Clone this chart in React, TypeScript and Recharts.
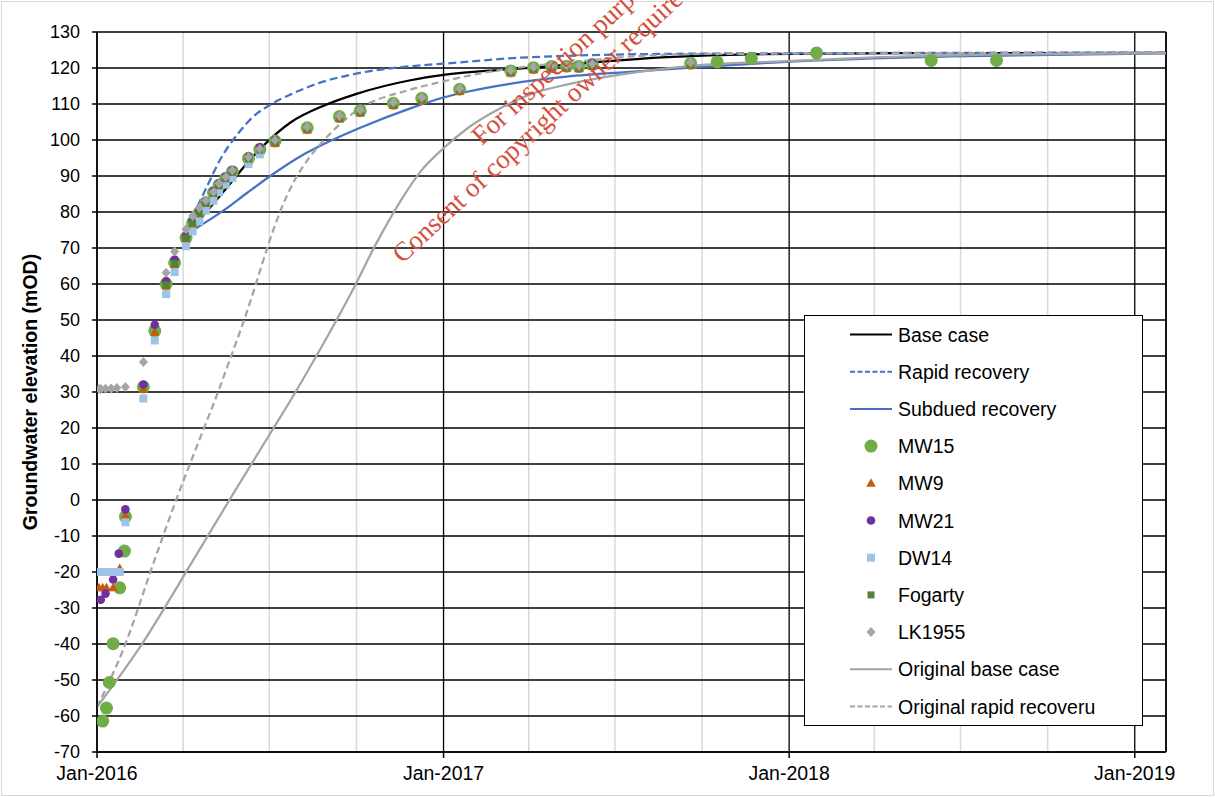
import React from "react";
import {
  ComposedChart,
  Line,
  Scatter,
  XAxis,
  YAxis,
  CartesianGrid,
  ReferenceLine,
  Legend,
} from "recharts";

// x axis is a plain number scale: days since 1 Jan 2016
const ORIGIN = Date.UTC(2016, 0, 1);
const toDay = (d: string) => Math.round((Date.parse(d) - ORIGIN) / 86400000);

const AXIS_END = "2019-02-03";
const YEAR_TICKS = ["2016-01-01", "2017-01-01", "2018-01-01", "2019-01-01"];
const YEAR_LABELS = ["Jan-2016", "Jan-2017", "Jan-2018", "Jan-2019"];
const QUARTER_TICKS = [
  "2016-04-01", "2016-07-01", "2016-10-01",
  "2017-04-01", "2017-07-01", "2017-10-01",
  "2018-04-01", "2018-07-01", "2018-10-01",
];
const LEVEL_TICKS = [-70, -60, -50, -40, -30, -20, -10, 0, 10, 20, 30, 40, 50, 60, 70, 80, 90, 100, 110, 120, 130];

type Reading = [string, number];

// model curves
const BASE_CASE: Reading[] = [
  ["2016-04-22", 79.0], ["2016-05-21", 88.0], ["2016-06-07", 93.4], ["2016-06-27", 99.0],
  ["2016-07-23", 104.8], ["2016-08-28", 109.6], ["2016-10-02", 112.9], ["2016-11-27", 116.6],
  ["2017-01-01", 118.1], ["2017-03-02", 119.5], ["2017-04-24", 120.5], ["2017-06-15", 121.7],
  ["2017-08-25", 123.0], ["2017-11-21", 123.8], ["2018-04-28", 124.1], ["2019-02-03", 124.2],
];

const RAPID_RECOVERY: Reading[] = [
  ["2016-04-16", 81.5], ["2016-04-26", 87.0], ["2016-05-10", 94.5], ["2016-05-29", 101.8],
  ["2016-06-14", 106.5], ["2016-07-02", 109.8], ["2016-07-23", 112.6], ["2016-08-27", 116.2],
  ["2016-10-02", 118.5], ["2016-11-27", 120.5], ["2017-01-01", 121.2], ["2017-04-02", 123.0],
  ["2017-09-29", 124.0], ["2019-02-03", 124.3],
];

const SUBDUED_RECOVERY: Reading[] = [
  ["2016-04-13", 75.2], ["2016-05-13", 80.3], ["2016-06-07", 85.2], ["2016-07-02", 90.0],
  ["2016-08-03", 95.5], ["2016-08-27", 98.8], ["2016-10-05", 103.4], ["2016-11-27", 108.8],
  ["2017-01-01", 111.8], ["2017-01-26", 113.4], ["2017-03-12", 115.6], ["2017-05-11", 117.6],
  ["2017-07-21", 119.0], ["2017-09-19", 120.1], ["2018-01-12", 121.9], ["2018-06-20", 123.2],
  ["2019-02-03", 124.1],
];

const ORIGINAL_BASE_CASE: Reading[] = [
  ["2016-01-01", -57.5], ["2016-02-15", -41.0], ["2016-04-11", -17.0], ["2016-05-21", 0.5],
  ["2016-06-14", 10.8], ["2016-07-05", 19.8], ["2016-07-23", 27.5], ["2016-08-24", 42.0],
  ["2016-09-25", 57.3], ["2016-10-21", 70.8], ["2016-11-16", 82.8], ["2016-12-07", 91.0],
  ["2017-01-01", 97.7], ["2017-01-26", 103.2], ["2017-03-02", 108.8], ["2017-04-06", 113.0],
  ["2017-05-11", 115.4], ["2017-07-03", 118.0], ["2017-08-25", 119.9], ["2017-09-29", 120.8],
  ["2017-12-29", 121.9], ["2018-04-07", 123.0], ["2018-08-26", 123.8], ["2019-02-03", 124.1],
];

const ORIGINAL_RAPID: Reading[] = [
  ["2016-01-01", -57.5], ["2016-01-28", -42.0], ["2016-03-04", -15.0], ["2016-03-25", 0.3],
  ["2016-04-19", 17.3], ["2016-05-07", 29.4], ["2016-05-21", 39.5], ["2016-06-04", 49.7],
  ["2016-06-18", 61.0], ["2016-06-30", 71.0], ["2016-07-13", 80.5], ["2016-07-27", 88.5],
  ["2016-08-10", 94.3], ["2016-08-29", 100.3], ["2016-10-02", 108.3], ["2016-11-27", 114.0],
  ["2017-01-01", 116.3], ["2017-02-09", 118.5], ["2017-04-02", 120.5], ["2017-05-25", 121.8],
  ["2017-06-29", 122.8], ["2017-09-29", 123.9], ["2019-02-03", 124.2],
];

// January 2016 drawdown readings
const MW15_JAN: Reading[] = [
  ["2016-01-07", -61.4], ["2016-01-11", -57.8], ["2016-01-14", -50.7], ["2016-01-18", -39.9],
  ["2016-01-25", -24.4], ["2016-01-30", -14.2], ["2016-01-31", -4.6],
];
const MW9_JAN: Reading[] = [
  ["2016-01-03", -24.4], ["2016-01-07", -24.4], ["2016-01-11", -24.4], ["2016-01-18", -24.4],
  ["2016-01-25", -19.0], ["2016-01-31", -4.3],
];
const MW21_JAN: Reading[] = [
  ["2016-01-05", -27.7], ["2016-01-10", -26.0], ["2016-01-18", -22.1], ["2016-01-24", -14.9],
  ["2016-01-31", -2.6],
];
const DW14_JAN: Reading[] = [
  ["2016-01-02", -20.0], ["2016-01-05", -20.0], ["2016-01-08", -20.0], ["2016-01-11", -20.0],
  ["2016-01-14", -20.0], ["2016-01-17", -20.0], ["2016-01-20", -20.0], ["2016-01-23", -20.0],
  ["2016-01-25", -20.0], ["2016-01-31", -6.2],
];
const LK1955_JAN: Reading[] = [
  ["2016-01-03", 30.8], ["2016-01-05", 30.8], ["2016-01-10", 30.9], ["2016-01-16", 31.0],
  ["2016-01-22", 31.1], ["2016-01-31", 31.4],
];

// later monitoring rounds
const VISIT_DATES = [
  "2016-02-19", "2016-03-02", "2016-03-14", "2016-03-23", "2016-04-04", "2016-04-11", "2016-04-18", "2016-04-25",
  "2016-05-03", "2016-05-09", "2016-05-16", "2016-05-23", "2016-06-09", "2016-06-21", "2016-07-07", "2016-08-10",
  "2016-09-13", "2016-10-05", "2016-11-09", "2016-12-09", "2017-01-18", "2017-03-13", "2017-04-06", "2017-04-25",
  "2017-05-11", "2017-05-24", "2017-06-07", "2017-09-19", "2017-10-17", "2017-11-22", "2018-01-30", "2018-05-31",
  "2018-08-08",
];
const MW15_LEVELS = [
  31.4, 47.0, 60.0, 65.9, 72.9, 77.0, 79.8, 82.6,
  85.4, 87.5, 89.4, 91.2, 94.9, 97.4, 99.7, 103.4,
  106.5, 108.1, 110.2, 111.6, 114.1, 119.2, 120.1, 120.4,
  120.5, 120.4, 121.0, 121.3, 121.7, 122.7, 124.2, 122.1,
  122.1,
];
const MW9_LEVELS = [
  30.7, 46.6, 59.5, 65.4, 72.4, 76.5, 79.3, 82.1,
  84.9, 87.0, 88.9, 90.7, 94.3, 96.8, 99.1, 102.8,
  105.9, 107.5, 109.6, 111.0, 113.5, 118.6, 119.5, 119.8,
  119.9, 119.8, 120.4, 120.7, null, null, null, null,
  null,
];
const MW21_LEVELS = [
  32.1, 48.7, 60.8, 66.8, 73.3, 77.5, 80.3, 83.0,
  85.8, 87.9, 89.8, 91.6, 95.3, 98.0, 100.0, null,
  null, null, null, null, null, null, null, null,
  null, null, 121.4, null, null, null, null, null,
  null,
];
const DW14_LEVELS = [
  28.2, 44.3, 57.2, 63.3, 70.5, 74.6, 77.4, 80.4,
  83.1, 85.5, 87.6, 89.4, 93.3, 96.0, null, null,
  null, null, null, null, null, null, null, null,
  null, null, null, null, null, null, null, null,
  null,
];
const FOGARTY_LEVELS = [
  null, null, 59.8, 65.7, 72.7, 76.8, 79.6, 82.4,
  85.2, 87.3, 89.2, 91.0, 94.7, 97.2, 99.5, 103.2,
  106.3, 107.9, 110.0, 111.4, 113.9, 119.0, 119.9, 120.2,
  120.3, 120.2, 120.8, 121.1, null, null, null, null,
  null,
];
const LK1955_LEVELS = [
  38.3, null, 63.1, 69.0, 75.2, 78.9, 81.2, 83.2,
  85.6, 87.9, 89.7, 91.6, 95.3, 97.6, 100.0, 103.6,
  106.7, 108.3, 110.4, 111.8, 114.3, 119.4, 120.3, 120.6,
  120.7, 120.6, 121.2, 121.5, null, null, null, null,
  null,
];

const X_MAX = toDay(AXIS_END);
const YEAR_DAYS = YEAR_TICKS.map(toDay);
const QUARTER_DAYS = QUARTER_TICKS.map(toDay);

const curve = (rows: Reading[]) => rows.map(([d, v]) => ({ x: toDay(d), y: v }));
const well = (jan: Reading[], levels: (number | null)[]) => [
  ...curve(jan),
  ...VISIT_DATES.flatMap((d, i) => (levels[i] == null ? [] : [{ x: toDay(d), y: levels[i] as number }])),
];

const LINES = [
  { name: "Base case", rows: BASE_CASE, stroke: "#000000", dash: undefined },
  { name: "Rapid recovery", rows: RAPID_RECOVERY, stroke: "#4472c4", dash: "8 4" },
  { name: "Subdued recovery", rows: SUBDUED_RECOVERY, stroke: "#4472c4", dash: undefined },
  { name: "Original base case", rows: ORIGINAL_BASE_CASE, stroke: "#a5a5a5", dash: undefined },
  { name: "Original rapid recoveru", rows: ORIGINAL_RAPID, stroke: "#a5a5a5", dash: "7 4" },
];

const WELLS = [
  { name: "MW15", points: well(MW15_JAN, MW15_LEVELS) },
  { name: "MW9", points: well(MW9_JAN, MW9_LEVELS) },
  { name: "MW21", points: well(MW21_JAN, MW21_LEVELS) },
  { name: "DW14", points: well(DW14_JAN, DW14_LEVELS) },
  { name: "Fogarty", points: well([], FOGARTY_LEVELS) },
  { name: "LK1955", points: well(LK1955_JAN, LK1955_LEVELS) },
];

const LEGEND_ORDER = [
  "Base case", "Rapid recovery", "Subdued recovery",
  "MW15", "MW9", "MW21", "DW14", "Fogarty", "LK1955",
  "Original base case", "Original rapid recoveru",
];

function Marker({ kind, cx, cy }: { kind: string; cx: number; cy: number }) {
  switch (kind) {
    case "MW15":
      return <circle cx={cx} cy={cy} r={6.5} fill="#70ad47" />;
    case "MW9":
      return <polygon points={`${cx},${cy - 5} ${cx + 4.8},${cy + 3.5} ${cx - 4.8},${cy + 3.5}`} fill="#c55a11" />;
    case "MW21":
      return <circle cx={cx} cy={cy} r={4.3} fill="#7030a0" />;
    case "DW14":
      return <rect x={cx - 4} y={cy - 4} width={8} height={8} fill="#9dc3e6" />;
    case "Fogarty":
      return <rect x={cx - 3.5} y={cy - 3.5} width={7} height={7} fill="#548235" />;
    default:
      return <polygon points={`${cx},${cy - 5} ${cx + 4.5},${cy} ${cx},${cy + 5} ${cx - 4.5},${cy}`} fill="#a5a5a5" />;
  }
}

function LegendBox() {
  return (
    <svg width={340} height={412} style={{ display: "block" }}>
      <rect x={0.5} y={0.5} width={338} height={410} fill="#ffffff" stroke="#000000" strokeWidth={1} />
      {LEGEND_ORDER.map((name, i) => {
        const cy = 19.5 + i * 37.2;
        const line = LINES.find((l) => l.name === name);
        return (
          <g key={name}>
            {line ? (
              <line x1={46} x2={88} y1={cy} y2={cy} stroke={line.stroke} strokeWidth={2}
                strokeDasharray={line.dash ? "5 2.5" : undefined} />
            ) : (
              <Marker kind={name} cx={67} cy={cy} />
            )}
            <text x={94} y={cy + 7} fontSize={19.5} fill="#000000">{name}</text>
          </g>
        );
      })}
    </svg>
  );
}

function AxisTitle(props: any) {
  const vb = props.viewBox || { x: 0, y: 32, height: 720 };
  const cx = (vb.x || 0) + 30;
  const cy = vb.y + vb.height / 2;
  return (
    <text x={cx} y={cy} transform={`rotate(-90 ${cx} ${cy})`} textAnchor="middle"
      dominantBaseline="central" fontSize={19.5} fontWeight="bold" fill="#000000">
      Groundwater elevation (mOD)
    </text>
  );
}

export default function App() {
  return (
    <div style={{ position: "absolute", left: 0, top: 0, width: 1215, height: 797, background: "#ffffff",
      fontFamily: "'Liberation Sans', Arial, sans-serif" }}>
      <ComposedChart width={1215} height={797} margin={{ top: 32, right: 49, bottom: 5, left: 0 }}>
        <XAxis xAxisId="minor" type="number" dataKey="x" domain={[0, X_MAX]} ticks={QUARTER_DAYS}
          allowDataOverflow hide />
        <CartesianGrid xAxisId="minor" horizontal={false} stroke="#d9d9d9" strokeWidth={1.5} />
        <CartesianGrid stroke="#000000" strokeWidth={1.3} />
        <XAxis
          type="number"
          dataKey="x"
          domain={[0, X_MAX]}
          ticks={YEAR_DAYS}
          interval={0}
          allowDataOverflow
          height={40}
          tickSize={6}
          tickMargin={8}
          tick={{ fontSize: 19.5, fill: "#000000" }}
          tickFormatter={(v: number) => YEAR_LABELS[YEAR_DAYS.indexOf(v)] ?? ""}
          axisLine={{ stroke: "#000000", strokeWidth: 1.5 }}
          tickLine={{ stroke: "#000000", strokeWidth: 1.5 }}
        />
        <YAxis
          type="number"
          dataKey="y"
          domain={[-70, 130]}
          ticks={LEVEL_TICKS}
          interval={0}
          allowDataOverflow
          width={97}
          tickSize={5}
          tickMargin={12}
          tick={{ fontSize: 18, fill: "#000000" }}
          axisLine={{ stroke: "#000000", strokeWidth: 1.5 }}
          tickLine={{ stroke: "#000000", strokeWidth: 1.5 }}
          label={{ content: AxisTitle }}
        />
        <ReferenceLine x={X_MAX} stroke="#000000" strokeWidth={1.5} />
        {LINES.map((l) => (
          <Line
            key={l.name}
            name={l.name}
            data={curve(l.rows)}
            dataKey="y"
            type="monotone"
            stroke={l.stroke}
            strokeWidth={2.25}
            strokeDasharray={l.dash}
            dot={false}
            activeDot={false}
            isAnimationActive={false}
          />
        ))}
        {WELLS.map((w) => (
          <Scatter
            key={w.name}
            name={w.name}
            data={w.points}
            dataKey="y"
            shape={(p: any) => <Marker kind={w.name} cx={p.cx} cy={p.cy} />}
            isAnimationActive={false}
          />
        ))}
        <Legend
          layout="vertical"
          align="center"
          verticalAlign="middle"
          content={() => <LegendBox />}
          wrapperStyle={{ left: 804, top: 315, width: 340, height: 412 }}
        />
      </ComposedChart>
      <svg width={1215} height={797} style={{ position: "absolute", left: 0, top: 0, pointerEvents: "none" }}>
        <rect x={1.5} y={1.5} width={1212} height={794} fill="none" stroke="#d9d9d9" strokeWidth={1} />
        <g transform="translate(598 38) rotate(-43)" fill="#d4503e" fontSize={27} textAnchor="middle"
          fontFamily="'Liberation Serif', 'Times New Roman', serif">
          <text x={0} y={0}>For inspection purposes only.</text>
          <text x={0} y={32}>Consent of copyright owner required for any other use.</text>
        </g>
      </svg>
    </div>
  );
}
